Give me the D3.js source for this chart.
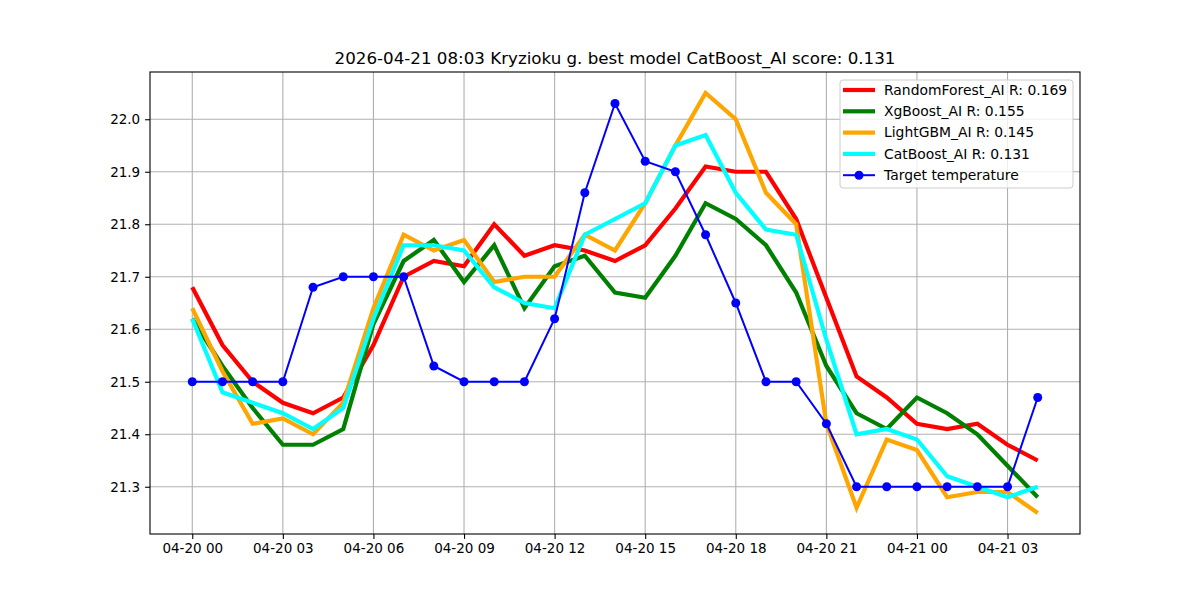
<!DOCTYPE html>
<html>
<head>
<meta charset="utf-8">
<script src="https://cdn.jsdelivr.net/npm/d3@7"></script>
<style>
    body { margin: 0; background: white; }
    #wrapper { width: 1200px; height: 600px; }
    text { font-family: 'DejaVu Sans', sans-serif; }
</style>
</head>
<body>
<div id="wrapper"></div>
<script>
const times = [
    '2026-04-20 00', '2026-04-20 01', '2026-04-20 02', '2026-04-20 03', '2026-04-20 04',
    '2026-04-20 05', '2026-04-20 06', '2026-04-20 07', '2026-04-20 08', '2026-04-20 09',
    '2026-04-20 10', '2026-04-20 11', '2026-04-20 12', '2026-04-20 13', '2026-04-20 14',
    '2026-04-20 15', '2026-04-20 16', '2026-04-20 17', '2026-04-20 18', '2026-04-20 19',
    '2026-04-20 20', '2026-04-20 21', '2026-04-20 22', '2026-04-20 23', '2026-04-21 00',
    '2026-04-21 01', '2026-04-21 02', '2026-04-21 03', '2026-04-21 04'
]

const randomForest = [21.68, 21.57, 21.50, 21.46, 21.44, 21.47, 21.57, 21.70, 21.73, 21.72,
    21.80, 21.74, 21.76, 21.75, 21.73, 21.76, 21.83, 21.91, 21.90, 21.90,
    21.81, 21.66, 21.51, 21.47, 21.42, 21.41, 21.42, 21.38, 21.35]
const xgBoost = [21.62, 21.53, 21.45, 21.38, 21.38, 21.41, 21.61, 21.73, 21.77, 21.69,
    21.76, 21.64, 21.72, 21.74, 21.67, 21.66, 21.74, 21.84, 21.81, 21.76,
    21.67, 21.53, 21.44, 21.41, 21.47, 21.44, 21.40, 21.34, 21.28]
const lightGBM = [21.64, 21.52, 21.42, 21.43, 21.40, 21.46, 21.64, 21.78, 21.75, 21.77,
    21.69, 21.70, 21.70, 21.78, 21.75, 21.84, 21.95, 22.05, 22.00, 21.86,
    21.80, 21.42, 21.26, 21.39, 21.37, 21.28, 21.29, 21.29, 21.25]
const catBoost = [21.62, 21.48, 21.46, 21.44, 21.41, 21.45, 21.62, 21.76, 21.76, 21.75,
    21.68, 21.65, 21.64, 21.78, 21.81, 21.84, 21.95, 21.97, 21.86, 21.79,
    21.78, 21.58, 21.40, 21.41, 21.39, 21.32, 21.30, 21.28, 21.30]
const target = [21.50, 21.50, 21.50, 21.50, 21.68, 21.70, 21.70, 21.70, 21.53, 21.50,
    21.50, 21.50, 21.62, 21.86, 22.03, 21.92, 21.90, 21.78, 21.65, 21.50,
    21.50, 21.42, 21.30, 21.30, 21.30, 21.30, 21.30, 21.30, 21.47]

const models = [
    { name: 'RandomForest_AI R: 0.169', values: randomForest, color: 'red' },
    { name: 'XgBoost_AI R: 0.155', values: xgBoost, color: 'green' },
    { name: 'LightGBM_AI R: 0.145', values: lightGBM, color: 'orange' },
    { name: 'CatBoost_AI R: 0.131', values: catBoost, color: 'cyan' }
]
const targetName = 'Target temperature'
const title = '2026-04-21 08:03 Kryzioku g. best model CatBoost_AI score: 0.131'
const yTicks = [21.3, 21.4, 21.5, 21.6, 21.7, 21.8, 21.9, 22.0]

function renderChart() {
    const dimensions = {
        width: 1200,
        height: 600,
        margins: { top: 72, right: 120, bottom: 66, left: 150 }
    }
    dimensions.boundedWidth = dimensions.width - dimensions.margins.left - dimensions.margins.right
    dimensions.boundedHeight = dimensions.height - dimensions.margins.top - dimensions.margins.bottom

    const parseDate = d3.timeParse('%Y-%m-%d %H')
    const dates = times.map(parseDate)
    const xAccessor = (d, i) => dates[i]

    const wrapper = d3.select('#wrapper')
        .append('svg')
        .attr('width', dimensions.width)
        .attr('height', dimensions.height)

    const bounds = wrapper.append('g')
        .attr('transform', `translate(${dimensions.margins.left}, ${dimensions.margins.top})`)

    // matplotlib style 5% margins
    const [t0, t1] = d3.extent(dates)
    const tPad = (t1 - t0) * 0.05
    const xScale = d3.scaleTime()
        .domain([new Date(+t0 - tPad), new Date(+t1 + tPad)])
        .range([0, dimensions.boundedWidth])

    const allValues = models.flatMap(m => m.values).concat(target)
    const [v0, v1] = d3.extent(allValues)
    const vPad = (v1 - v0) * 0.05
    const yScale = d3.scaleLinear()
        .domain([v0 - vPad, v1 + vPad])
        .range([dimensions.boundedHeight, 0])

    const xTicks = dates.filter(d => d.getHours() % 3 === 0)

    // grid
    bounds.append('g').selectAll('line').data(xTicks).join('line')
        .attr('x1', d => xScale(d)).attr('x2', d => xScale(d))
        .attr('y1', 0).attr('y2', dimensions.boundedHeight)
        .attr('stroke', '#b0b0b0').attr('stroke-width', 1.1)
    bounds.append('g').selectAll('line').data(yTicks).join('line')
        .attr('x1', 0).attr('x2', dimensions.boundedWidth)
        .attr('y1', d => yScale(d)).attr('y2', d => yScale(d))
        .attr('stroke', '#b0b0b0').attr('stroke-width', 1.1)

    const lineGenerator = d3.line()
        .x((d, i) => xScale(xAccessor(d, i)))
        .y(d => yScale(d))

    models.forEach(m => {
        bounds.append('path')
            .attr('d', lineGenerator(m.values))
            .attr('fill', 'none')
            .attr('stroke', m.color)
            .attr('stroke-width', 4.2)
            .attr('stroke-linejoin', 'miter')
    })

    bounds.append('path')
        .attr('d', lineGenerator(target))
        .attr('fill', 'none')
        .attr('stroke', 'blue')
        .attr('stroke-width', 2)
    bounds.append('g').selectAll('circle').data(target).join('circle')
        .attr('cx', (d, i) => xScale(xAccessor(d, i)))
        .attr('cy', d => yScale(d))
        .attr('r', 4.5)
        .attr('fill', 'blue')

    // axes
    const xAxisGenerator = d3.axisBottom(xScale)
        .tickValues(xTicks)
        .tickFormat(d3.timeFormat('%m-%d %H'))
        .tickSize(4.9)
        .tickPadding(4.9)
    const xAxis = bounds.append('g')
        .attr('transform', `translate(0, ${dimensions.boundedHeight})`)
        .call(xAxisGenerator)
    const yAxisGenerator = d3.axisLeft(yScale)
        .tickValues(yTicks)
        .tickFormat(d3.format('.1f'))
        .tickSize(4.9)
        .tickPadding(4.9)
    const yAxis = bounds.append('g').call(yAxisGenerator)

    ;[xAxis, yAxis].forEach(axis => {
        axis.select('.domain').remove()
        axis.selectAll('.tick line').attr('stroke', 'black').attr('stroke-width', 1.1)
        axis.selectAll('.tick text')
            .attr('fill', 'black')
            .style('font-size', '13.5px')
            .style('font-family', 'DejaVu Sans')
    })

    // frame
    bounds.append('rect')
        .attr('width', dimensions.boundedWidth)
        .attr('height', dimensions.boundedHeight)
        .attr('fill', 'none')
        .attr('stroke', 'black')
        .attr('stroke-width', 1.1)

    wrapper.append('text')
        .attr('x', dimensions.margins.left + dimensions.boundedWidth / 2)
        .attr('y', dimensions.margins.top - 8)
        .attr('text-anchor', 'middle')
        .style('font-size', '16.7px')
        .text(title)

    // legend
    const legendItems = models.map(m => ({ name: m.name, color: m.color, width: 4.2, marker: false }))
        .concat([{ name: targetName, color: 'blue', width: 2, marker: true }])
    const legend = bounds.append('g')
        .attr('transform', `translate(${dimensions.boundedWidth - 240}, 8)`)
    legend.append('rect')
        .attr('width', 233)
        .attr('height', 108)
        .attr('rx', 3)
        .attr('fill', 'white')
        .attr('fill-opacity', 0.8)
        .attr('stroke', '#cccccc')
        .attr('stroke-width', 1)
    const rows = legend.selectAll('g').data(legendItems).join('g')
        .attr('transform', (d, i) => `translate(0, ${10 + i * 21.3})`)
    rows.append('line')
        .attr('x1', 3).attr('x2', 35)
        .attr('y1', 0).attr('y2', 0)
        .attr('stroke', d => d.color)
        .attr('stroke-width', d => d.width)
    rows.filter(d => d.marker).append('circle')
        .attr('cx', 19).attr('cy', 0).attr('r', 4.5)
        .attr('fill', 'blue')
    rows.append('text')
        .attr('x', 44)
        .attr('y', 0)
        .attr('dy', '0.35em')
        .style('font-size', '13.9px')
        .text(d => d.name)
}

renderChart()
</script>
</body>
</html>
